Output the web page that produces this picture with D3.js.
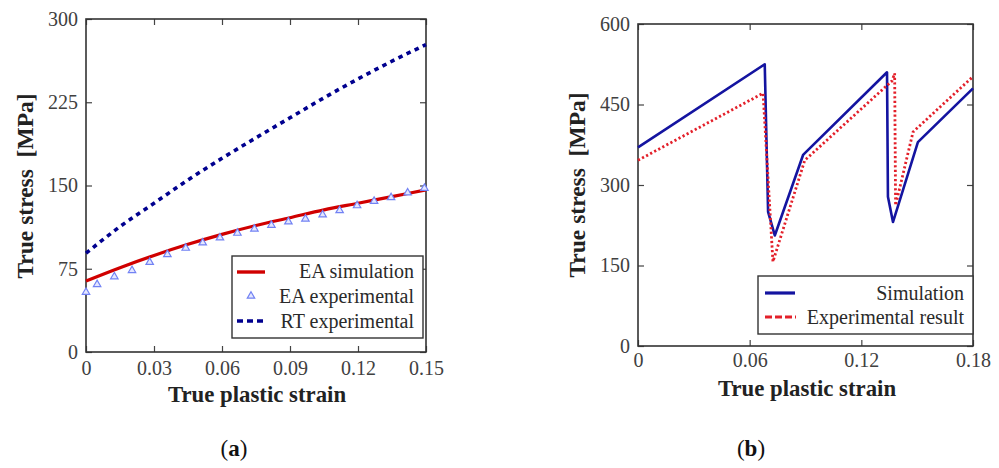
<!DOCTYPE html>
<meta charset="utf-8">
<style>
body { margin: 0; background: #fff; }
svg { display: block; }
</style>
<body>
<svg width="999" height="468"></svg>
<script src="https://d3js.org/d3.v7.min.js"></script>
<script>

// ---- panel (a) data ----
var simStrainA = [0, 0.015, 0.03, 0.045, 0.06, 0.075, 0.09, 0.105, 0.12, 0.135, 0.15];
var simStressA = [64, 76, 87, 97, 106, 114, 121, 128, 134, 140, 146];

var expStrainA = [0, 0.0049, 0.0125, 0.0203, 0.0281, 0.0359, 0.044, 0.0515, 0.0591, 0.0668, 0.0743,
                  0.0818, 0.0893, 0.0968, 0.1044, 0.1119, 0.1196, 0.1271, 0.1346, 0.1419, 0.1493];
var expStressA = [53, 60, 67, 72.6, 80, 87, 92.7, 97.5, 102, 106.2, 110,
                  113.4, 116.4, 119, 122.7, 126.6, 131, 135, 138.3, 142.5, 146.7];

var rtStrainA = [0, 0.015, 0.03, 0.045, 0.06, 0.075, 0.09, 0.105, 0.12, 0.135, 0.15];
var rtStressA = [89, 113, 134, 155, 174.5, 193, 211, 229, 246, 262, 277];

var xTicksA = [0, 0.03, 0.06, 0.09, 0.12, 0.15];
var yTicksA = [0, 75, 150, 225, 300];

// ---- panel (b) data ----
var simStrainB = [0, 0.0681, 0.0699, 0.0735, 0.0887, 0.1338, 0.1343, 0.137, 0.1504, 0.18];
var simStressB = [370, 525, 250, 206, 356, 510, 278, 231, 380, 480];

var expStrainB = [0, 0.0672, 0.0725, 0.0896, 0.1365, 0.1379, 0.1384, 0.1478, 0.18];
var expStressB = [346, 471, 157, 346, 494, 508, 262, 399, 502];

var xTicksB = [0, 0.06, 0.12, 0.18];
var yTicksB = [0, 150, 300, 450, 600];

var SERIF = "'Liberation Serif', 'Times New Roman', serif";
var svg = d3.select("svg");

function zip(xs, ys) { return xs.map(function(x, i) { return [x, ys[i]]; }); }

function frame(g, x, y, xt, yt, xfmt, pad) {
  var x0 = x.range()[0], x1 = x.range()[1], y0 = y.range()[0], y1 = y.range()[1];
  g.append("g").attr("transform", "translate(0," + y0 + ")")
    .call(d3.axisBottom(x).tickValues(xt).tickFormat(xfmt).tickSizeInner(-6).tickSizeOuter(0).tickPadding(pad));
  g.append("g").attr("transform", "translate(0," + y1 + ")")
    .call(d3.axisTop(x).tickValues(xt).tickFormat("").tickSizeInner(-6).tickSizeOuter(0));
  g.append("g").attr("transform", "translate(" + x0 + ",0)")
    .call(d3.axisLeft(y).tickValues(yt).tickFormat(d3.format("d")).tickSizeInner(-6).tickSizeOuter(0).tickPadding(8));
  g.append("g").attr("transform", "translate(" + x1 + ",0)")
    .call(d3.axisRight(y).tickValues(yt).tickFormat("").tickSizeInner(-6).tickSizeOuter(0));
  g.selectAll(".domain").remove();
  g.selectAll(".tick line").attr("stroke", "#444").attr("stroke-width", 1.2);
  g.selectAll(".tick text").attr("font-family", SERIF).attr("font-size", 20).attr("fill", "#404040");
  g.append("rect").attr("x", x0).attr("y", y1).attr("width", x1 - x0).attr("height", y0 - y1)
    .attr("fill", "none").attr("stroke", "#333").attr("stroke-width", 1.6);
}

function fmtTick(d) { return d === 0 ? "0" : d3.format(".2f")(d); }

function label(g, x, y, rot, size, txt) {
  g.append("text").attr("transform", "translate(" + x + "," + y + ")" + (rot ? " rotate(-90)" : ""))
    .attr("text-anchor", "middle").attr("font-family", SERIF).attr("font-weight", "bold")
    .attr("font-size", size).attr("fill", "#222").attr("xml:space", "preserve").text(txt);
}

function legText(g, x, y, txt) {
  g.append("text").attr("x", x).attr("y", y).attr("text-anchor", "end")
    .attr("font-family", SERIF).attr("font-size", 20).attr("fill", "#2a2a2a").text(txt);
}

// ================= panel (a) =================
var ga = svg.append("g");
var xa = d3.scaleLinear().domain([0, 0.15]).range([86, 426]);
var ya = d3.scaleLinear().domain([0, 300]).range([352, 19]);
var lineA = d3.line().x(function(d) { return xa(d[0]); }).y(function(d) { return ya(d[1]); }).curve(d3.curveMonotoneX);

frame(ga, xa, ya, xTicksA, yTicksA, fmtTick, 9);

ga.append("path").datum(zip(rtStrainA, rtStressA)).attr("d", lineA)
  .attr("fill", "none").attr("stroke", "#00008f").attr("stroke-width", 3.6).attr("stroke-dasharray", "4.5,4.5");

ga.append("path").datum(zip(simStrainA, simStressA)).attr("d", lineA)
  .attr("fill", "none").attr("stroke", "#d00000").attr("stroke-width", 3.2);

var tri = d3.symbol().type(d3.symbolTriangle).size(24);
ga.selectAll(".tri").data(zip(expStrainA, expStressA)).enter().append("path")
  .attr("class", "tri").attr("d", tri)
  .attr("transform", function(d) { return "translate(" + xa(d[0]) + "," + (ya(d[1]) - 1) + ")"; })
  .attr("fill", "#e4e7ff").attr("stroke", "#7282f4").attr("stroke-width", 1.2);

// legend (a)
var la = ga.append("g");
la.append("rect").attr("x", 232).attr("y", 256).attr("width", 191).attr("height", 82)
  .attr("fill", "#fff").attr("stroke", "#333").attr("stroke-width", 1.4);
la.append("line").attr("x1", 237).attr("x2", 265).attr("y1", 272).attr("y2", 272)
  .attr("stroke", "#d00000").attr("stroke-width", 3.4);
la.append("path").attr("d", tri).attr("transform", "translate(251,296)")
  .attr("fill", "#e4e7ff").attr("stroke", "#7282f4").attr("stroke-width", 1.2);
la.append("line").attr("x1", 237).attr("x2", 265).attr("y1", 321).attr("y2", 321)
  .attr("stroke", "#00008f").attr("stroke-width", 3.6).attr("stroke-dasharray", "6,4");
["EA simulation", "EA experimental", "RT experimental"].forEach(function(t, i) {
  legText(la, 414, 278 + i * 25, t);
});

label(ga, 257, 402, false, 22.8, "True plastic strain");
label(ga, 33, 186, true, 23.5, "True stress  [MPa]");

// ================= panel (b) =================
var gb = svg.append("g");
var xb = d3.scaleLinear().domain([0, 0.18]).range([638, 973]);
var yb = d3.scaleLinear().domain([0, 600]).range([346, 24]);
var lineB = d3.line().x(function(d) { return xb(d[0]); }).y(function(d) { return yb(d[1]); });

frame(gb, xb, yb, xTicksB, yTicksB, fmtTick, 7);

gb.append("path").datum(zip(simStrainB, simStressB)).attr("d", lineB)
  .attr("fill", "none").attr("stroke", "#1414a0").attr("stroke-width", 2.6).attr("stroke-linejoin", "round");
gb.append("path").datum(zip(expStrainB, expStressB)).attr("d", lineB)
  .attr("fill", "none").attr("stroke", "#e3202a").attr("stroke-width", 2.8).attr("stroke-dasharray", "2.2,2.4");

// legend (b)
var lb = gb.append("g");
lb.append("rect").attr("x", 758).attr("y", 276).attr("width", 215).attr("height", 58)
  .attr("fill", "#fff").attr("stroke", "#333").attr("stroke-width", 1.4);
lb.append("line").attr("x1", 765).attr("x2", 795).attr("y1", 293).attr("y2", 293)
  .attr("stroke", "#1414a0").attr("stroke-width", 3.2);
lb.append("line").attr("x1", 765).attr("x2", 796).attr("y1", 317).attr("y2", 317)
  .attr("stroke", "#e3202a").attr("stroke-width", 3).attr("stroke-dasharray", "7,3");
["Simulation", "Experimental result"].forEach(function(t, i) {
  legText(lb, 964, 300 + i * 23.5, t);
});

label(gb, 807, 396, false, 22.8, "True plastic strain");
label(gb, 585, 185, true, 23.5, "True stress  [MPa]");

// captions
[["a", 234], ["b", 751]].forEach(function(c) {
  var t = svg.append("text").attr("x", c[1]).attr("y", 456).attr("text-anchor", "middle")
    .attr("font-family", SERIF).attr("font-size", 23).attr("fill", "#111");
  t.append("tspan").text("(");
  t.append("tspan").attr("font-weight", "bold").text(c[0]);
  t.append("tspan").text(")");
});
</script>
</body>
